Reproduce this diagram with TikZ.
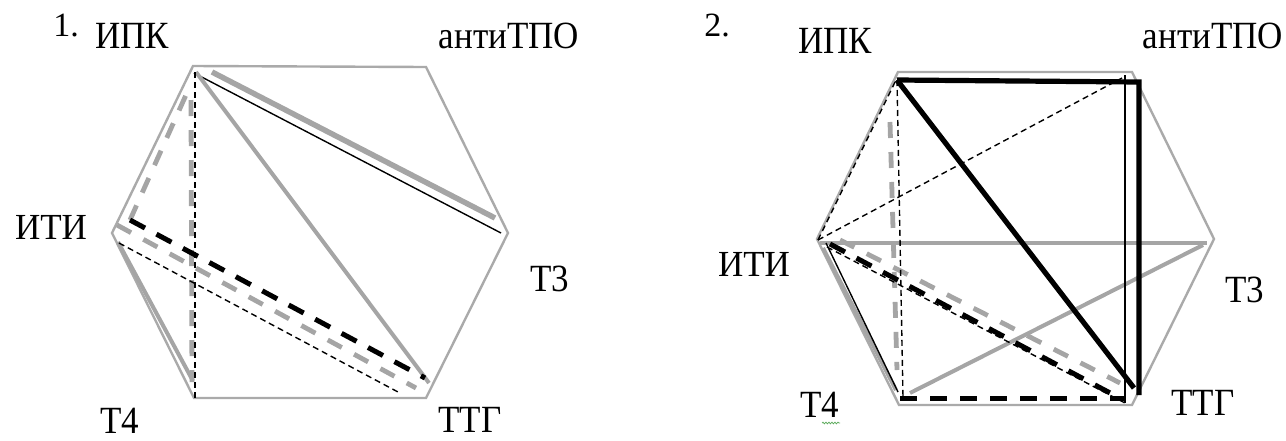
\documentclass[tikz,border=0pt]{standalone}
\usepackage{fontspec}
\setmainfont{Liberation Serif}
\usetikzlibrary{decorations.pathmorphing}
\definecolor{hexgray}{RGB}{170,170,170}
\definecolor{lgray}{RGB}{165,165,165}
\definecolor{squig}{RGB}{90,170,90}
\begin{document}
\begin{tikzpicture}[x=1pt,y=-1pt,
  hexedge/.style={draw=hexgray,line width=2.4pt,line join=miter},
  gthick/.style={draw=lgray,line width=5.5pt},
  gmid/.style={draw=lgray,line width=4pt},
  bthin/.style={draw=black,line width=1.4pt},
  bthick/.style={draw=black,line width=5.2pt},
  bdash/.style={draw=black,line width=5pt,dash pattern=on 17pt off 13pt},
  gdash/.style={draw=lgray,line width=4.8pt,dash pattern=on 16pt off 14pt},
  tdash/.style={draw=black,line width=1.4pt,dash pattern=on 6pt off 4pt},
  lbl/.style={anchor=base,inner sep=0pt,font=\fontsize{35}{37}\selectfont},
  num/.style={anchor=base,inner sep=0pt,font=\fontsize{34}{36}\selectfont}]
\useasboundingbox (0,0) rectangle (1286,440);

% ---------------- hexagon 1 ----------------
\coordinate (a1) at (193,66);
\coordinate (b1) at (426,67);
\coordinate (c1) at (508,233);
\coordinate (d1) at (426,398);
\coordinate (e1) at (194,398);
\coordinate (f1) at (112,233);
\draw[hexedge] (a1) -- (b1) -- (c1) -- (d1) -- (e1) -- (f1) -- cycle;

\coordinate (p1a) at (194,73);   \coordinate (p1b) at (501,233);
\coordinate (p2a) at (212,72);   \coordinate (p2b) at (495,218);
\coordinate (p3a) at (196,72);   \coordinate (p3b) at (429,383);
\coordinate (p4a) at (195,72);   \coordinate (p4b) at (195,398);
\coordinate (p5a) at (130,220);  \coordinate (p5b) at (190,86);
\coordinate (p5c) at (192,382);
\coordinate (p6a) at (130,220);  \coordinate (p6b) at (425,378);
\coordinate (p7a) at (117,225);  \coordinate (p7b) at (416,388);
\coordinate (p8a) at (119,243);  \coordinate (p8b) at (398,392);
\coordinate (p9a) at (118,242);  \coordinate (p9b) at (193,381);

\draw[gthick] (p2a) -- (p2b);
\draw[bthin] (p1a) -- (p1b);
\draw[gmid] (p3a) -- (p3b);
\draw[gmid] (p9a) -- (p9b);
\draw[gdash] (p5a) -- (p5b);
\draw[gdash] (p5b) ++(1,14) -- (p5c);
\draw[gdash] (p7a) -- (p7b);
\draw[tdash] (p4a) -- (p4b);
\draw[tdash] (p8a) -- (p8b);
\draw[bdash] (p6a) -- (p6b);

% labels 1
\node[num] (n1) at (66,36) {1.};
\node[lbl] (ipk1) at (132,48) {\scalebox{1}[1.1]{ИПК}};
\node[lbl] (anti1) at (509,48) {\scalebox{1}[1.1]{антиТПО}};
\node[lbl] (iti1) at (51,239) {\scalebox{1}[1.05]{ИТИ}};
\node[lbl] (t31) at (550,291) {\scalebox{1}[1.1]{Т3}};
\node[lbl] (t41) at (120,433) {\scalebox{1}[1.1]{Т4}};
\node[lbl] (ttg1) at (470,432) {\scalebox{1}[1.1]{ТТГ}};

% ---------------- hexagon 2 ----------------
\coordinate (a2) at (898,72);
\coordinate (b2) at (1132,72);
\coordinate (c2) at (1214,239);
\coordinate (d2) at (1132,405);
\coordinate (e2) at (899,405);
\coordinate (f2) at (817,239);
\draw[hexedge] (a2) -- (b2) -- (c2) -- (d2) -- (e2) -- (f2) -- cycle;

\coordinate (q1a) at (897,80);   \coordinate (q1b) at (1139,82);
\coordinate (q1c) at (1139,395);
\coordinate (q2b) at (1134,388);
\coordinate (q3a) at (1125,75);  \coordinate (q3b) at (1125,403);
\coordinate (q4a) at (818,240);  \coordinate (q4b) at (1122,78);
\coordinate (q5b) at (897,78);
\coordinate (q6b) at (903,397);
\coordinate (q7a) at (890,122);  \coordinate (q7b) at (897,370);
\coordinate (q8a) at (820,243);  \coordinate (q8b) at (1207,243);
\coordinate (q9a) at (910,393);  \coordinate (q9b) at (1203,245);
\coordinate (q10a) at (840,240); \coordinate (q10b) at (1120,383);
\coordinate (q11a) at (830,244); \coordinate (q11b) at (1112,394);
\coordinate (q12a) at (827,247); \coordinate (q12b) at (1125,403);
\coordinate (q13a) at (900,398); \coordinate (q13b) at (1125,398);
\coordinate (q14a) at (823,248); \coordinate (q14b) at (896,390);
\coordinate (q15a) at (826,243); \coordinate (q15b) at (898,392);

\draw[gmid] (q8a) -- (q8b);
\draw[gmid] (q9a) -- (q9b);
\draw[gmid] (q14a) -- (q14b);
\draw[gdash] (q7a) -- (q7b);
\draw[gdash] (q10a) -- (q10b);
\draw[bthin] (q15a) -- (q15b);
\draw[bthin] (q3a) -- (q3b);
\draw[tdash] (q4a) -- (q4b);
\draw[tdash] (q4a) -- (q5b);
\draw[tdash] (q1a) -- (q6b);
\draw[tdash] (q12a) -- (q12b);
\draw[bdash] (q11a) -- (q11b);
\draw[bdash] (q13a) -- (q13b);
\draw[bthick,line join=miter] (q1a) -- (q1b) -- (q1c);
\draw[bthick] (q1a) -- (q2b);

% labels 2
\node[num] (n2) at (717,36) {2.};
\node[lbl] (ipk2) at (835,53) {\scalebox{1}[1.1]{ИПК}};
\node[lbl] (anti2) at (1213,48) {\scalebox{1}[1.1]{антиТПО}};
\node[lbl] (iti2) at (754,276) {\scalebox{1}[1.05]{ИТИ}};
\node[lbl] (t32) at (1245,302) {\scalebox{1}[1.1]{Т3}};
\node[lbl] (t42) at (820,417) {\scalebox{1}[1.1]{Т4}};
\node[lbl] (ttg2) at (1203,415) {\scalebox{1}[1.1]{ТТГ}};
\coordinate (w1) at (822,423); \coordinate (w2) at (840,423);
\draw[squig,line width=0.7pt,decorate,decoration={snake,amplitude=0.9pt,segment length=3pt}] (w1) -- (w2);
\end{tikzpicture}
\end{document}
